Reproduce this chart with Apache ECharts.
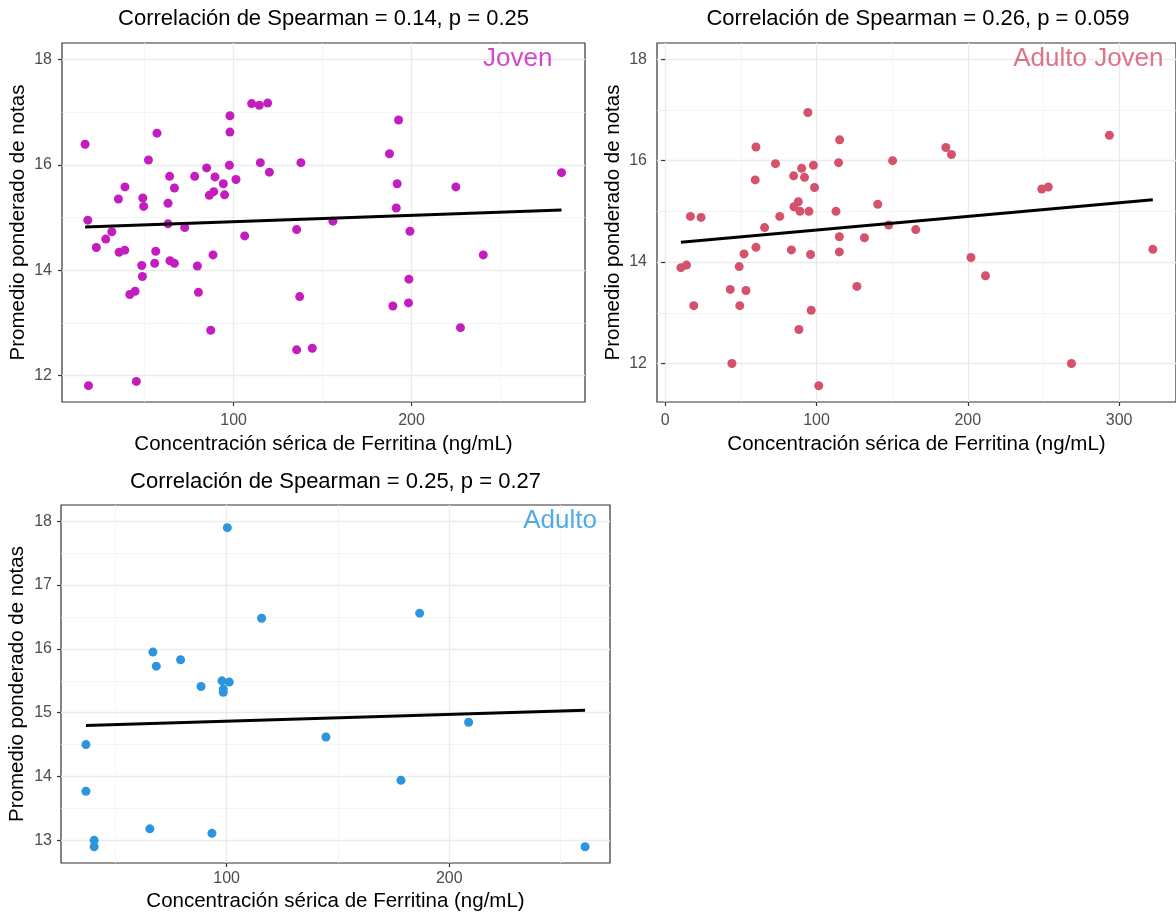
<!DOCTYPE html>
<html>
<head>
<meta charset="utf-8">
<script src="https://cdn.jsdelivr.net/npm/echarts@6.0.0/dist/echarts.min.js"></script>
<style>
    html, body { margin: 0; padding: 0; background: #fff; }
    #chart { width: 1176px; height: 916px; }
</style>
</head>
<body>
<div id="chart"></div>
<script>

// Joven
var jovenFerritina = [16.5, 56.9, 52.1, 97.9, 97.9, 110.1, 114.4, 119.1, 97.6, 115.0,
    137.8, 120.1, 84.8, 64.0, 78.1, 89.5, 101.3, 94.2, 66.7, 38.9,
    35.2, 48.9, 49.4, 63.1, 86.3, 88.8, 94.9, 18.0, 63.1, 72.5,
    31.5, 28.1, 22.8, 35.6, 38.8, 56.2, 106.2, 88.4, 48.3, 55.6,
    64.2, 66.7, 79.6, 48.7, 41.6, 44.6, 80.2, 87.1, 135.4, 137.1,
    135.4, 144.2, 18.4, 45.3, 155.8, 192.7, 187.6, 191.9, 224.9, 284.3,
    191.4, 199.1, 240.3, 198.5, 189.5, 198.3, 227.5];
var jovenNotas = [16.39, 16.60, 16.09, 16.93, 16.62, 17.16, 17.13, 17.17, 15.99, 16.04,
    16.04, 15.86, 15.94, 15.78, 15.78, 15.77, 15.72, 15.64, 15.56, 15.58,
    15.35, 15.37, 15.21, 15.27, 15.42, 15.49, 15.43, 14.95, 14.88, 14.81,
    14.73, 14.59, 14.43, 14.34, 14.38, 14.36, 14.65, 14.29, 14.09, 14.13,
    14.18, 14.13, 14.08, 13.88, 13.54, 13.60, 13.58, 12.86, 14.77, 13.50,
    12.49, 12.52, 11.81, 11.89, 14.93, 16.85, 16.21, 15.64, 15.58, 15.85,
    15.18, 14.74, 14.29, 13.83, 13.32, 13.38, 12.91];
var jovenAjusteX = [16.5, 284.3];
var jovenAjusteY = [14.82, 15.14];

// Adulto Joven
var adultoJovenFerritina = [94.3, 60.0, 115.3, 72.9, 98.0, 90.2, 114.6, 150.3, 59.5, 84.9,
    92.1, 98.7, 140.5, 88.0, 85.1, 89.1, 95.0, 112.9, 16.7, 23.7,
    75.7, 65.7, 147.7, 115.1, 131.7, 52.1, 60.0, 83.4, 96.1, 115.1,
    10.4, 14.1, 48.9, 43.0, 53.4, 18.9, 49.3, 96.5, 126.7, 88.4,
    44.1, 101.5, 185.5, 189.2, 293.6, 248.9, 253.2, 165.6, 202.1, 211.7,
    322.3, 268.5];
var adultoJovenNotas = [16.95, 16.27, 16.41, 15.94, 15.91, 15.85, 15.96, 16.00, 15.62, 15.70,
    15.67, 15.47, 15.14, 15.19, 15.09, 15.00, 15.00, 15.00, 14.90, 14.88,
    14.90, 14.68, 14.73, 14.50, 14.48, 14.16, 14.29, 14.24, 14.15, 14.20,
    13.89, 13.94, 13.91, 13.46, 13.44, 13.14, 13.14, 13.05, 13.52, 12.67,
    12.00, 11.56, 16.26, 16.12, 16.50, 15.44, 15.48, 14.64, 14.09, 13.73,
    14.25, 12.00];
var adultoJovenAjusteX = [10.4, 322.3];
var adultoJovenAjusteY = [14.39, 15.23];

// Adulto
var adultoFerritina = [100.3, 115.7, 66.9, 68.4, 79.3, 88.5, 97.9, 101.2, 98.5, 98.5,
    36.8, 36.8, 40.5, 40.5, 65.5, 93.4, 186.7, 144.6, 208.7, 178.3,
    261.0];
var adultoNotas = [17.90, 16.48, 15.95, 15.73, 15.83, 15.41, 15.50, 15.48, 15.37, 15.32,
    14.50, 13.77, 13.00, 12.90, 13.18, 13.11, 16.56, 14.62, 14.85, 13.94,
    12.90];
var adultoAjusteX = [36.8, 261.0];
var adultoAjusteY = [14.80, 15.04];

// etiquetas de los ejes
var jovenTicksX = [100, 200];
var jovenTicksY = [12, 14, 16, 18];
var adultoJovenTicksX = [0, 100, 200, 300];
var adultoJovenTicksY = [12, 14, 16, 18];
var adultoTicksX = [100, 200];
var adultoTicksY = [13, 14, 15, 16, 17, 18];

var titulos = [
    'Correlación de Spearman = 0.14, p = 0.25',
    'Correlación de Spearman = 0.26, p = 0.059',
    'Correlación de Spearman = 0.25, p = 0.27'
];
var grupos = ['Joven', 'Adulto Joven', 'Adulto'];

var FONT = 'Liberation Sans, Arial, sans-serif';
var X_TITLE = 'Concentración sérica de Ferritina (ng/mL)';
var Y_TITLE = 'Promedio ponderado de notas';

function pares(xs, ys) {
    return xs.map(function (x, i) {
        return [x, ys[i]];
    });
}

// disposicion de cada panel (px) y rango de los ejes
var paneles = [
    {
        grid: {left: 62, top: 43, width: 523, height: 359},
        x: [3.5, 297.5], y: [11.5, 18.31], xStep: 100, yStep: 2,
        ticksX: jovenTicksX, ticksY: jovenTicksY,
        xLabelMargin: 11, xNameGap: 32, yLabelMargin: 10, yNameGap: 33,
        titleTop: 8, etiqueta: [260, 18],
        color: '#C41DBF',
        puntos: pares(jovenFerritina, jovenNotas),
        ajuste: pares(jovenAjusteX, jovenAjusteY)
    },
    {
        grid: {left: 657, top: 43, width: 522, height: 359},
        x: [-5.4, 337.6], y: [11.24, 18.32], xStep: 100, yStep: 2,
        ticksX: adultoJovenTicksX, ticksY: adultoJovenTicksY,
        xLabelMargin: 11, xNameGap: 32, yLabelMargin: 10, yNameGap: 33,
        titleTop: 8, etiqueta: [280, 18],
        color: '#D5526C',
        puntos: pares(adultoJovenFerritina, adultoJovenNotas),
        ajuste: pares(adultoJovenAjusteX, adultoJovenAjusteY)
    },
    {
        grid: {left: 61, top: 505, width: 549, height: 358},
        x: [25.6, 272.2], y: [12.645, 18.255], xStep: 100, yStep: 1,
        ticksX: adultoTicksX, ticksY: adultoTicksY,
        xLabelMargin: 8, xNameGap: 28, yLabelMargin: 9, yNameGap: 33,
        titleTop: 471, etiqueta: [250, 18],
        color: '#2B96DE',
        puntos: pares(adultoFerritina, adultoNotas),
        ajuste: pares(adultoAjusteX, adultoAjusteY)
    }
];

function ejeBase(p, i, min, max, step, ticks, margin) {
    return {
        type: 'value',
        gridIndex: i,
        min: min,
        max: max,
        minInterval: step,
        maxInterval: step,
        nameLocation: 'middle',
        nameTextStyle: {fontSize: 20.5, color: '#000', fontFamily: FONT},
        axisLine: {show: false},
        axisTick: {
            show: true,
            length: 4,
            customValues: ticks,
            lineStyle: {color: '#333', width: 1.2}
        },
        axisLabel: {
            customValues: ticks,
            margin: margin,
            fontSize: 16,
            color: '#4D4D4D',
            fontFamily: FONT
        },
        splitLine: {show: true, lineStyle: {color: '#EBEBEB', width: 1.3}},
        minorTick: {show: false, splitNumber: 2},
        minorSplitLine: {show: true, lineStyle: {color: '#F3F3F3', width: 0.8}}
    };
}

var option = {
    animation: false,
    backgroundColor: '#fff',
    textStyle: {fontFamily: FONT},
    title: [],
    grid: [],
    xAxis: [],
    yAxis: [],
    series: []
};

paneles.forEach(function (p, i) {
    var g = p.grid;
    option.grid.push({
        left: g.left, top: g.top, width: g.width, height: g.height,
        show: true, borderColor: '#333', borderWidth: 1.2
    });

    option.title.push({
        text: titulos[i],
        left: g.left + g.width / 2,
        top: p.titleTop,
        textAlign: 'center',
        padding: 0,
        textStyle: {fontSize: 22, fontWeight: 'normal', color: '#000', fontFamily: FONT}
    });

    var xa = ejeBase(p, i, p.x[0], p.x[1], p.xStep, p.ticksX, p.xLabelMargin);
    xa.name = X_TITLE;
    xa.nameGap = p.xNameGap;
    option.xAxis.push(xa);

    var ya = ejeBase(p, i, p.y[0], p.y[1], p.yStep, p.ticksY, p.yLabelMargin);
    ya.name = Y_TITLE;
    ya.nameGap = p.yNameGap;
    option.yAxis.push(ya);

    option.series.push({
        type: 'scatter',
        xAxisIndex: i,
        yAxisIndex: i,
        data: p.puntos,
        symbolSize: 9,
        itemStyle: {color: p.color, opacity: 1},
        z: 2
    });

    option.series.push({
        type: 'line',
        xAxisIndex: i,
        yAxisIndex: i,
        data: p.ajuste,
        showSymbol: false,
        symbol: 'none',
        lineStyle: {color: '#000', width: 3},
        z: 3
    });

    // nombre del grupo, como annotate() en ggplot
    option.series.push({
        type: 'scatter',
        xAxisIndex: i,
        yAxisIndex: i,
        data: [p.etiqueta],
        symbolSize: 1,
        itemStyle: {color: 'rgba(0,0,0,0)'},
        silent: true,
        label: {
            show: true,
            position: [0, 0],
            align: 'center',
            verticalAlign: 'middle',
            formatter: grupos[i],
            fontSize: 26,
            color: p.color,
            textBorderWidth: 0,
            fontFamily: FONT
        },
        z: 4
    });
});

var chart = echarts.init(document.getElementById('chart'));
chart.setOption(option);

</script>
</body>
</html>
